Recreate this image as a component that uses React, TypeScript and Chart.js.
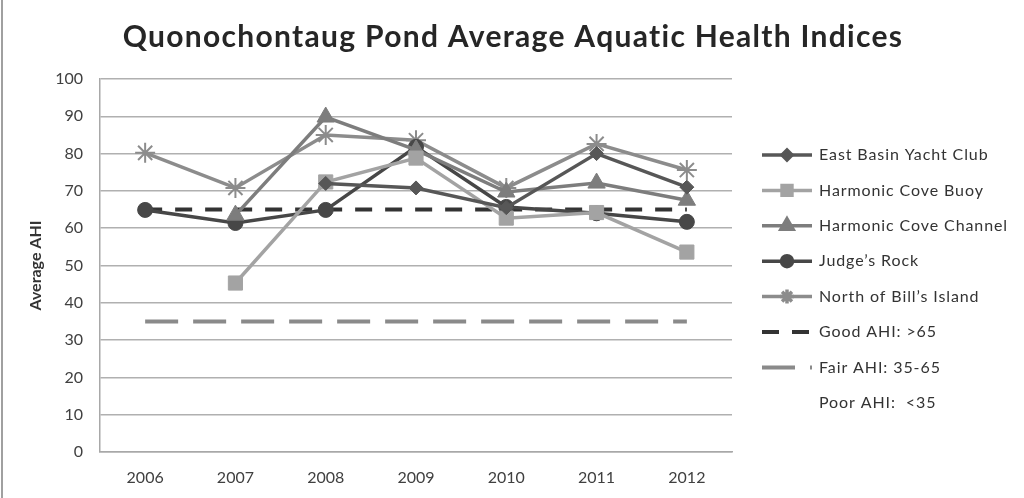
import { useEffect, useRef } from "react";
import { Chart, registerables, Plugin } from "chart.js";
import { drawPoint } from "chart.js/helpers";

Chart.register(...registerables);

// years on the x axis
const years = ["2006", "2007", "2008", "2009", "2010", "2011", "2012"];

// average AHI per site
const eastBasin = [null, null, 72, 70.8, 65.5, 80, 71];
const harmonicBuoy = [null, 45.3, 72.4, 78.8, 62.7, 64.2, 53.6];
const harmonicChannel = [null, 63.5, 89.8, 81, 69.7, 72.1, 67.5];
const judgesRock = [64.9, 61.4, 64.9, 81.8, 65.7, 64, 61.7];
const northBills = [80.2, 70.8, 85, 83.6, 70.8, 82.6, 75.6];

// threshold lines
const goodAhi = [65, 65, 65, 65, 65, 65, 65];
const fairAhi = [35, 35, 35, 35, 35, 35, 35];

const chartTitle = "Quonochontaug Pond Average Aquatic Health Indices";

const FONT = "Lato, 'Open Sans', sans-serif";

// title, frame, y tick labels and the legend on the right
const extras: Plugin<"line"> = {
  id: "extras",
  beforeDraw(chart) {
    const { ctx } = chart;
    ctx.save();
    ctx.fillStyle = "#fff";
    ctx.fillRect(0, 0, chart.width, chart.height);
    ctx.strokeStyle = "#a0a0a0";
    ctx.lineWidth = 2;
    ctx.beginPath();
    ctx.moveTo(2, 0);
    ctx.lineTo(2, chart.height);
    ctx.stroke();

    ctx.fillStyle = "#262626";
    ctx.font = `bold 30px ${FONT}`;
    (ctx as any).letterSpacing = "1.3px";
    ctx.textAlign = "center";
    ctx.textBaseline = "middle";
    ctx.fillText(chartTitle, 513, 37);
    ctx.restore();
  },
  afterDraw(chart) {
    const { ctx, chartArea } = chart;
    const yScale = chart.scales.y;
    ctx.save();

    // y tick labels, right-aligned next to the axis
    ctx.fillStyle = "#404040";
    ctx.font = `16px ${FONT}`;
    ctx.textAlign = "right";
    ctx.textBaseline = "middle";
    yScale.ticks.forEach((t) => {
      ctx.fillText(String(t.value), chartArea.left - 17, yScale.getPixelForValue(t.value));
    });

    const x0 = chartArea.right + 30;
    const w = 50;
    chart.data.datasets.forEach((ds: any, i: number) => {
      const y = 155 + i * 35.4;
      if (ds.borderWidth) {
        ctx.strokeStyle = ds.borderColor;
        ctx.lineWidth = ds.borderWidth;
        ctx.setLineDash(ds.borderDash || []);
        ctx.beginPath();
        ctx.moveTo(x0, y);
        ctx.lineTo(x0 + w, y);
        ctx.stroke();
        ctx.setLineDash([]);
      }
      if (ds.legendRadius) {
        ctx.fillStyle = ds.pointBackgroundColor;
        ctx.strokeStyle = ds.pointBorderColor;
        drawPoint(ctx, {
          pointStyle: ds.pointStyle,
          radius: ds.legendRadius,
          rotation: 0,
          borderWidth: ds.pointBorderWidth,
        }, x0 + w / 2, y);
      }
      ctx.fillStyle = "#333";
      ctx.font = `16px ${FONT}`;
      (ctx as any).letterSpacing = "0.9px";
      ctx.textBaseline = "middle";
      ctx.textAlign = "left";
      ctx.fillText(ds.label, x0 + w + 7, y);
    });
    ctx.restore();
  },
};

function site(label: string, data: (number | null)[], color: string, style: string, radius: number, legendRadius: number, fill = true) {
  return {
    label,
    data,
    borderColor: color,
    borderWidth: 3.5,
    pointStyle: style,
    pointRadius: radius,
    pointBackgroundColor: fill ? color : "transparent",
    pointBorderColor: color,
    pointBorderWidth: fill ? 1 : 2,
    legendRadius,
    spanGaps: false,
  } as any;
}

export default function App() {
  const canvasRef = useRef<HTMLCanvasElement>(null);
  const chartRef = useRef<Chart | null>(null);

  useEffect(() => {
    document.body.style.margin = "0";
    if (!canvasRef.current) return;
    if (chartRef.current) {
      chartRef.current.destroy();
      chartRef.current = null;
    }

    chartRef.current = new Chart(canvasRef.current, {
      type: "line",
      data: {
        labels: years,
        datasets: [
          site("East Basin Yacht Club", eastBasin, "#575757", "rectRot", 7, 5),
          site("Harmonic Cove Buoy", harmonicBuoy, "#a3a3a3", "rect", 10, 7),
          site("Harmonic Cove Channel", harmonicChannel, "#7d7d7d", "triangle", 10, 7),
          site("Judge’s Rock", judgesRock, "#474747", "circle", 7.5, 5.5),
          site("North of Bill’s Island", northBills, "#8c8c8c", "star", 10, 7, false),
          {
            label: "Good AHI: >65",
            data: goodAhi,
            borderColor: "#333333",
            borderWidth: 4,
            borderDash: [17, 13],
            pointRadius: 0,
          } as any,
          {
            label: "Fair AHI: 35-65",
            data: fairAhi,
            borderColor: "#8a8a8a",
            borderWidth: 4,
            borderDash: [33, 15],
            pointRadius: 0,
          } as any,
          {
            label: "Poor AHI:  <35",
            data: [],
            borderWidth: 0,
            pointRadius: 0,
          } as any,
        ],
      },
      options: {
        responsive: false,
        animation: false,
        layout: { padding: { left: 26, right: 292, top: 79, bottom: 0 } },
        plugins: {
          legend: { display: false },
          tooltip: { enabled: false },
          title: { display: false },
        },
        scales: {
          x: {
            offset: true,
            grid: { display: false },
            border: { display: true, color: "#a8a8a8", width: 1.5 },
            ticks: { color: "#404040", font: { family: FONT, size: 16 }, padding: 8 },
            afterFit: (scale: any) => {
              scale.height = 46;
            },
          },
          y: {
            min: 0,
            max: 100,
            ticks: { stepSize: 10, display: false },
            grid: { color: "#b0b0b0", lineWidth: 1.5, drawTicks: false },
            border: { display: true, color: "#a8a8a8", width: 1.5 },
            title: {
              display: true,
              text: "Average AHI",
              color: "#333",
              font: { family: FONT, size: 16, weight: "bold" },
              padding: { top: 0, bottom: 0 },
            },
            afterFit: (scale: any) => {
              scale.width = 74;
            },
          },
        },
      },
      plugins: [extras],
    });

    return () => {
      if (chartRef.current) {
        chartRef.current.destroy();
        chartRef.current = null;
      }
    };
  }, []);

  return (
    <div style={{ width: 1024, height: 498 }}>
      <canvas ref={canvasRef} width={1024} height={498}></canvas>
    </div>
  );
}
